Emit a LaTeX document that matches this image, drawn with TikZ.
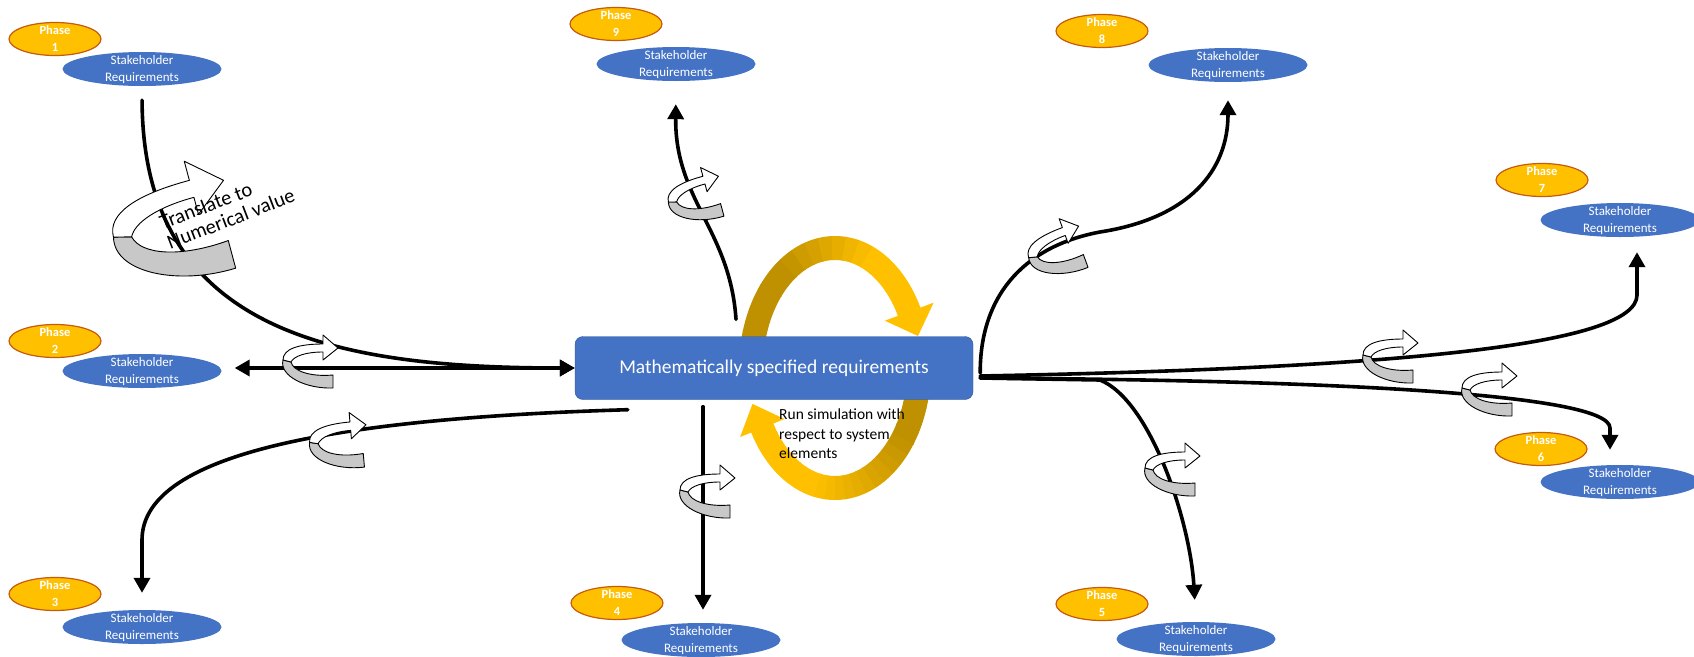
\documentclass[tikz,border=0pt]{standalone}
\usepackage{fontspec}
\setmainfont{Carlito}
\usetikzlibrary{arrows.meta,shapes.geometric}
\definecolor{boxblue}{RGB}{68,114,196}
\definecolor{boxedge}{RGB}{47,82,143}
\definecolor{phasefill}{RGB}{255,192,0}
\definecolor{phaseedge}{RGB}{197,90,17}
\definecolor{ringlight}{RGB}{255,192,0}
\definecolor{ringdark}{RGB}{191,144,0}
\definecolor{bandgrey}{RGB}{200,200,200}
\newcommand\twoline[3][3.5pt]{\raisebox{-#1}[0pt][0pt]{\begin{tabular}{@{}c@{}}#2\\#3\end{tabular}}}
\tikzset{
	twist/.pic={
		\filldraw[fill=bandgrey, draw=black, line width=0.9pt] (-27,-2) .. controls (-31,14) and (-4,27) .. (23,26) -- (23,13) .. controls (0,15) and (-17,9) .. (-19,0) -- cycle;
		\filldraw[fill=white, draw=black, line width=0.9pt] (-27,-2) .. controls (-27,-13) and (-12,-18) .. (13,-18) -- (13,-27) -- (28,-14) -- (13,-2) -- (13,-10) .. controls (-4,-10) and (-16,-6) .. (-19,0) -- cycle;
	}
}
\begin{document}
\begin{tikzpicture}[x=1pt, y=-1pt, line join=round, line cap=round,
	conn/.style={line width=3.6pt, -{Triangle[width=16pt,length=15pt]}},
	stake/.style={ellipse, fill=boxblue, minimum width=159pt, minimum height=34pt, inner sep=0pt, text=white, font=\fontsize{13}{16.5}\selectfont},
	phase/.style={ellipse, fill=phasefill, draw=phaseedge, line width=1.2pt, minimum width=92pt, minimum height=33pt, inner sep=0pt, text=white, font=\fontsize{12.5}{16.5}\selectfont\bfseries},
	ring/.style={line width=24pt, line cap=butt}]
	\useasboundingbox (0,0) rectangle (1694,656);
	\def\cx{835} \def\cy{368} \def\rx{84} \def\ry{120}
	% loop round the box
	\foreach \a in {180,188,...,324} {
		\pgfmathtruncatemacro\m{min(100,max(0,(\a-230)*1.67))}
		\draw[ring, ringlight!\m!ringdark] plot[domain=\a:\a+8.5, samples=5] ({\cx+\rx*cos(\x)},{\cy+\ry*sin(\x)});
	}
	\fill[ringlight] (933.6,302.7) -- (918,336) -- (884.8,320.7) -- cycle;
	\foreach \a in {0,6,...,144} {
		\pgfmathtruncatemacro\m{min(100,max(0,(\a-30)*1.43))}
		\draw[ring, ringlight!\m!ringdark] plot[domain=\a:\a+6.5, samples=5] ({\cx+\rx*cos(\x)},{\cy+\ry*sin(\x)});
	}
	\fill[ringlight] (784.5,419) -- (752.5,403.9) -- (740.1,437) -- cycle;
	\node[draw=boxedge, fill=boxblue, rounded corners=8pt, minimum width=398pt, minimum height=63pt, text=white, font=\fontsize{19.5}{22}\selectfont] (main) at (774,368) {Mathematically specified requirements};
	% phases
	\foreach \k/\px/\py/\sx/\sy in {1/55/39/142/69, 2/55/341/142/371, 3/55/594/142/627, 4/617/603/701/640, 5/1102/604/1196/639, 6/1541/449/1620/482, 7/1542/180/1620/220, 8/1102/31/1228/65, 9/616/24/676/64} {
		\node[phase] (p\k) at (\px,\py) {\twoline{Phase}{\k}};
		\node[stake] (s\k) at (\sx,\sy) {\twoline{Stakeholder}{Requirements}};
	}
	\draw[conn, shorten <=14pt] (s1.south) .. controls (143,330) and (330,368) .. (main.west);
	\draw[conn, {Triangle[width=16pt,length=15pt]}-{Triangle[width=16pt,length=15pt]}, shorten <=13pt] (s2.east |- main.west) -- (main.west);
	\draw[conn, shorten >=17pt] ([shift={(53,10)}]main.south west) .. controls (350,418) and (142,450) .. (142,540) -- (s3.north);
	\draw[conn, shorten >=13pt] ([shift={(-71,7)}]main.south) -- ([shift={(2,0)}]s4.north);
	\draw[conn, shorten >=22pt] ([shift={(7,10)}]main.east) -- (1100,380) .. controls (1150,400) and (1190,520) .. (s5.north);
	\draw[conn, shorten >=15pt] ([shift={(7,10)}]main.east) .. controls (1300,380) and (1610,392) .. (1610,428) -- ([shift={(-10,0)}]s6.north);
	\draw[conn, shorten >=15pt] ([shift={(7,8)}]main.east) .. controls (1400,368) and (1637,345) .. (1637,295) -- ([shift={(17,0)}]s7.south);
	\draw[conn, shorten >=18pt] ([shift={(7,5)}]main.east) .. controls (980,290) and (1030,245) .. (1100,232) .. controls (1190,218) and (1228,170) .. (s8.south);
	\draw[conn, shorten >=23pt] ([shift={(-38,-17)}]main.north) .. controls (730,230) and (675,200) .. (s9.south);
	% twisted arrows on the lines
	\foreach \tx/\ty/\ts/\tr in {172/226/2.2/15, 310/362/1/0, 338/442/1.05/5, 707/492/1/0, 695/197/1/15, 1056/250/1.05/20, 1390/357/1/0, 1489/390/1/0, 1172/470/1/0}
		\pic[scale=\ts, rotate=\tr] at (\tx,\ty) {twist};
	\node[rotate=21, align=left, inner sep=0pt, font=\fontsize{20.5}{21}\selectfont] (num) at (227,209) {Translate to\\Numerical value};
	\node[anchor=north west, inner sep=0pt, align=left, font=\fontsize{15.5}{19.5}\selectfont] (sim) at (779,409) {Run simulation with\\respect to system\\elements};
\end{tikzpicture}
\end{document}
